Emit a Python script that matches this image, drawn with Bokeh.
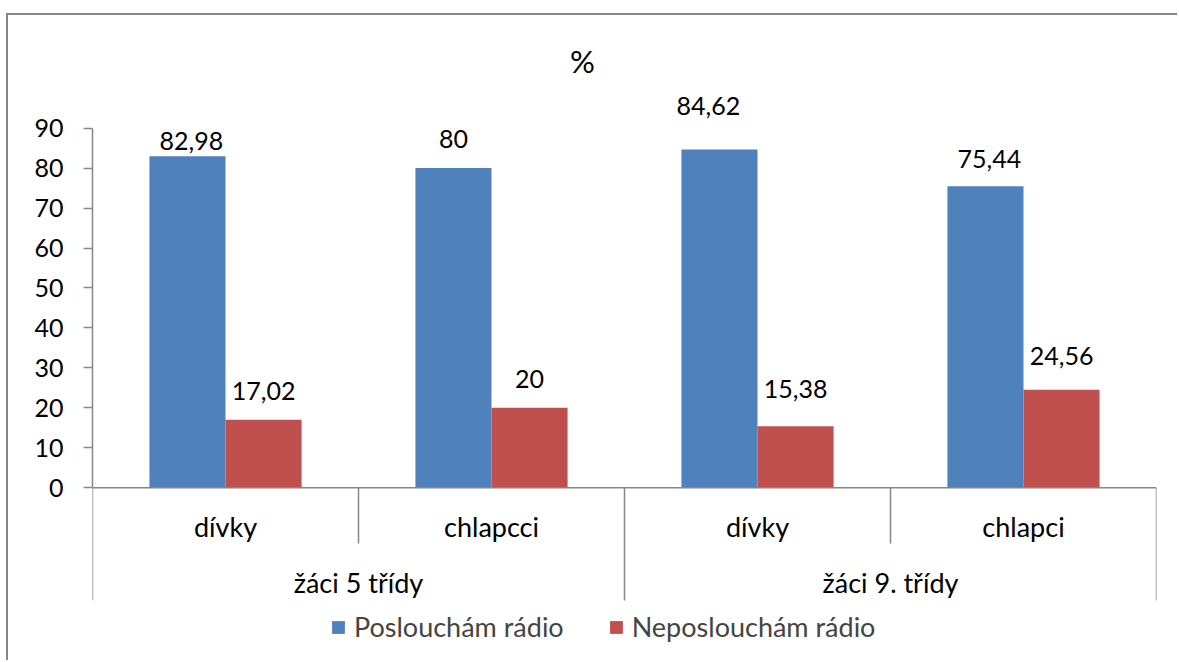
from bokeh.plotting import figure
from bokeh.models import (FactorRange, Range1d, ColumnDataSource, FixedTicker, Span,
                          Legend, LegendItem, Label)
from bokeh.transform import dodge
from bokeh.core.properties import value
from bokeh.embed import file_html
from bokeh.resources import INLINE

# ---- data ----
groups = ["žáci 5 třídy", "žáci 9. třídy"]
subgroups = ["dívky", "chlapcci", "dívky", "chlapci"]
group_of = [0, 0, 1, 1]
series_names = ["Poslouchám rádio", "Neposlouchám rádio"]
listen = [82.98, 80, 84.62, 75.44]
not_listen = [17.02, 20, 15.38, 24.56]
y_ticks = [0, 10, 20, 30, 40, 50, 60, 70, 80, 90]
title_text = "%"

# ---- style / layout (window pixel coordinates) ----
FONT = "Lato"
BLUE = "#4F81BD"
RED = "#C0504D"
GRAY = "#868686"
WIN_W, WIN_H = 1179, 662
OX, OY = 8, 15                      # chart box starts after its border
FRAME_L, FRAME_R = 92, 1156
TOP90_Y, ZERO_Y = 127.6, 487.3
PX = (ZERO_Y - TOP90_Y) / 90.0
Y_MAX = (ZERO_Y - OY) / PX
Y_MIN = (ZERO_Y - WIN_H) / PX
BW = 0.286
TXT_SHIFT = 9                       # baseline correction for svg text

def py(pix):  # window pixel y -> data y
    return (ZERO_Y - pix) / PX

def fmt(v):
    return ("%g" % v).replace(".", ",")

factors = [(groups[g], s) for g, s in zip(group_of, subgroups)]

src = ColumnDataSource(dict(
    x=factors,
    listen=listen,
    not_listen=not_listen,
    l_lab=[fmt(v) for v in listen],
    n_lab=[fmt(v) for v in not_listen],
    l_dx=[4, 0, -11, 4],
    l_dy=[-6 - TXT_SHIFT, -20 - TXT_SHIFT, -35 - TXT_SHIFT, -18 - TXT_SHIFT],
    n_dx=[0, 0, 0, 0],
    n_dy=[-20 - TXT_SHIFT, -20 - TXT_SHIFT, -28 - TXT_SHIFT, -25 - TXT_SHIFT],
))

p = figure(width=WIN_W - OX, height=WIN_H - OY, title=None,
           x_range=FactorRange(*factors, factor_padding=0, group_padding=0,
                               subgroup_padding=0, range_padding=0),
           y_range=Range1d(Y_MIN, Y_MAX),
           x_axis_location=None, output_backend="svg", toolbar_location=None,
           min_border_left=FRAME_L - OX, min_border_right=WIN_W - FRAME_R,
           min_border_top=0, min_border_bottom=0)
p.outline_line_color = None
p.xgrid.grid_line_color = None
p.ygrid.grid_line_color = None
p.background_fill_color = "white"
p.border_fill_color = "white"
p.styles = {"border-left": "2px solid #868686", "border-top": "2px solid #868686",
            "margin-left": "6px", "margin-top": "13px"}

ax = p.yaxis[0]
ax.ticker = FixedTicker(ticks=y_ticks)
ax.bounds = (0, 90)
ax.axis_line_color = GRAY
ax.axis_line_width = 1.5
ax.major_tick_line_color = GRAY
ax.major_tick_line_width = 1.5
ax.major_tick_out = 9
ax.major_tick_in = 0
ax.minor_tick_line_color = None
ax.major_label_text_font = FONT
ax.major_label_text_font_size = "25px"
ax.major_label_text_color = "black"
ax.major_label_standoff = 20

r1 = p.vbar(x=dodge("x", -BW / 2, range=p.x_range), top="listen", width=BW,
            source=src, fill_color=BLUE, line_color=None)
r2 = p.vbar(x=dodge("x", BW / 2, range=p.x_range), top="not_listen", width=BW,
            source=src, fill_color=RED, line_color=None)

p.text(x=dodge("x", -BW / 2, range=p.x_range), y="listen", text="l_lab",
       x_offset="l_dx", y_offset="l_dy", source=src,
       text_align="center", text_baseline="alphabetic",
       text_font=value(FONT), text_font_size="25px", text_color="black")
p.text(x=dodge("x", BW / 2, range=p.x_range), y="not_listen", text="n_lab",
       x_offset="n_dx", y_offset="n_dy", source=src,
       text_align="center", text_baseline="alphabetic",
       text_font=value(FONT), text_font_size="25px", text_color="black")

# x axis line
p.add_layout(Span(location=0, dimension="width", line_color=GRAY, line_width=1.5))

# separators
sep_bottom = [py(600) if i == 0 or group_of[i] != group_of[i - 1] else py(543)
              for i in range(len(factors))]
sep_src = ColumnDataSource(dict(x=factors, y1=sep_bottom))
p.segment(x0=dodge("x", -0.5, range=p.x_range), x1=dodge("x", -0.5, range=p.x_range),
          y0=0, y1="y1", source=sep_src, line_color=GRAY, line_width=1.5)
end_src = ColumnDataSource(dict(x=[factors[-1]], y1=[py(600)]))
p.segment(x0=dodge("x", 0.5, range=p.x_range), x1=dodge("x", 0.5, range=p.x_range),
          y0=0, y1="y1", source=end_src, line_color=GRAY, line_width=1.5)

# category labels
p.text(x=factors, y=[py(535 - TXT_SHIFT)] * len(factors), text=subgroups,
       text_align="center", text_baseline="alphabetic",
       text_font=value(FONT), text_font_size="27px", text_color="black")
p.text(x=groups, y=[py(591 - TXT_SHIFT)] * len(groups), text=groups,
       text_align="center", text_baseline="alphabetic",
       text_font=value(FONT), text_font_size="27px", text_color="black")

# title
p.add_layout(Label(x=582 - FRAME_L, y=WIN_H - 60, x_units="screen", y_units="screen",
                   text=title_text, text_align="center", text_baseline="middle",
                   text_font=FONT, text_font_size="31px", text_color="black"))

legend = Legend(items=[LegendItem(label=series_names[0], renderers=[r1]),
                       LegendItem(label=series_names[1], renderers=[r2])],
                orientation="horizontal", location=(238, 19),
                glyph_width=16, glyph_height=16, label_standoff=8, spacing=44,
                label_text_font=FONT, label_text_font_size="27px",
                padding=0, margin=0, border_line_color=None,
                background_fill_alpha=0)
p.add_layout(legend)

open("out.html", "w").write(file_html(p, INLINE))
